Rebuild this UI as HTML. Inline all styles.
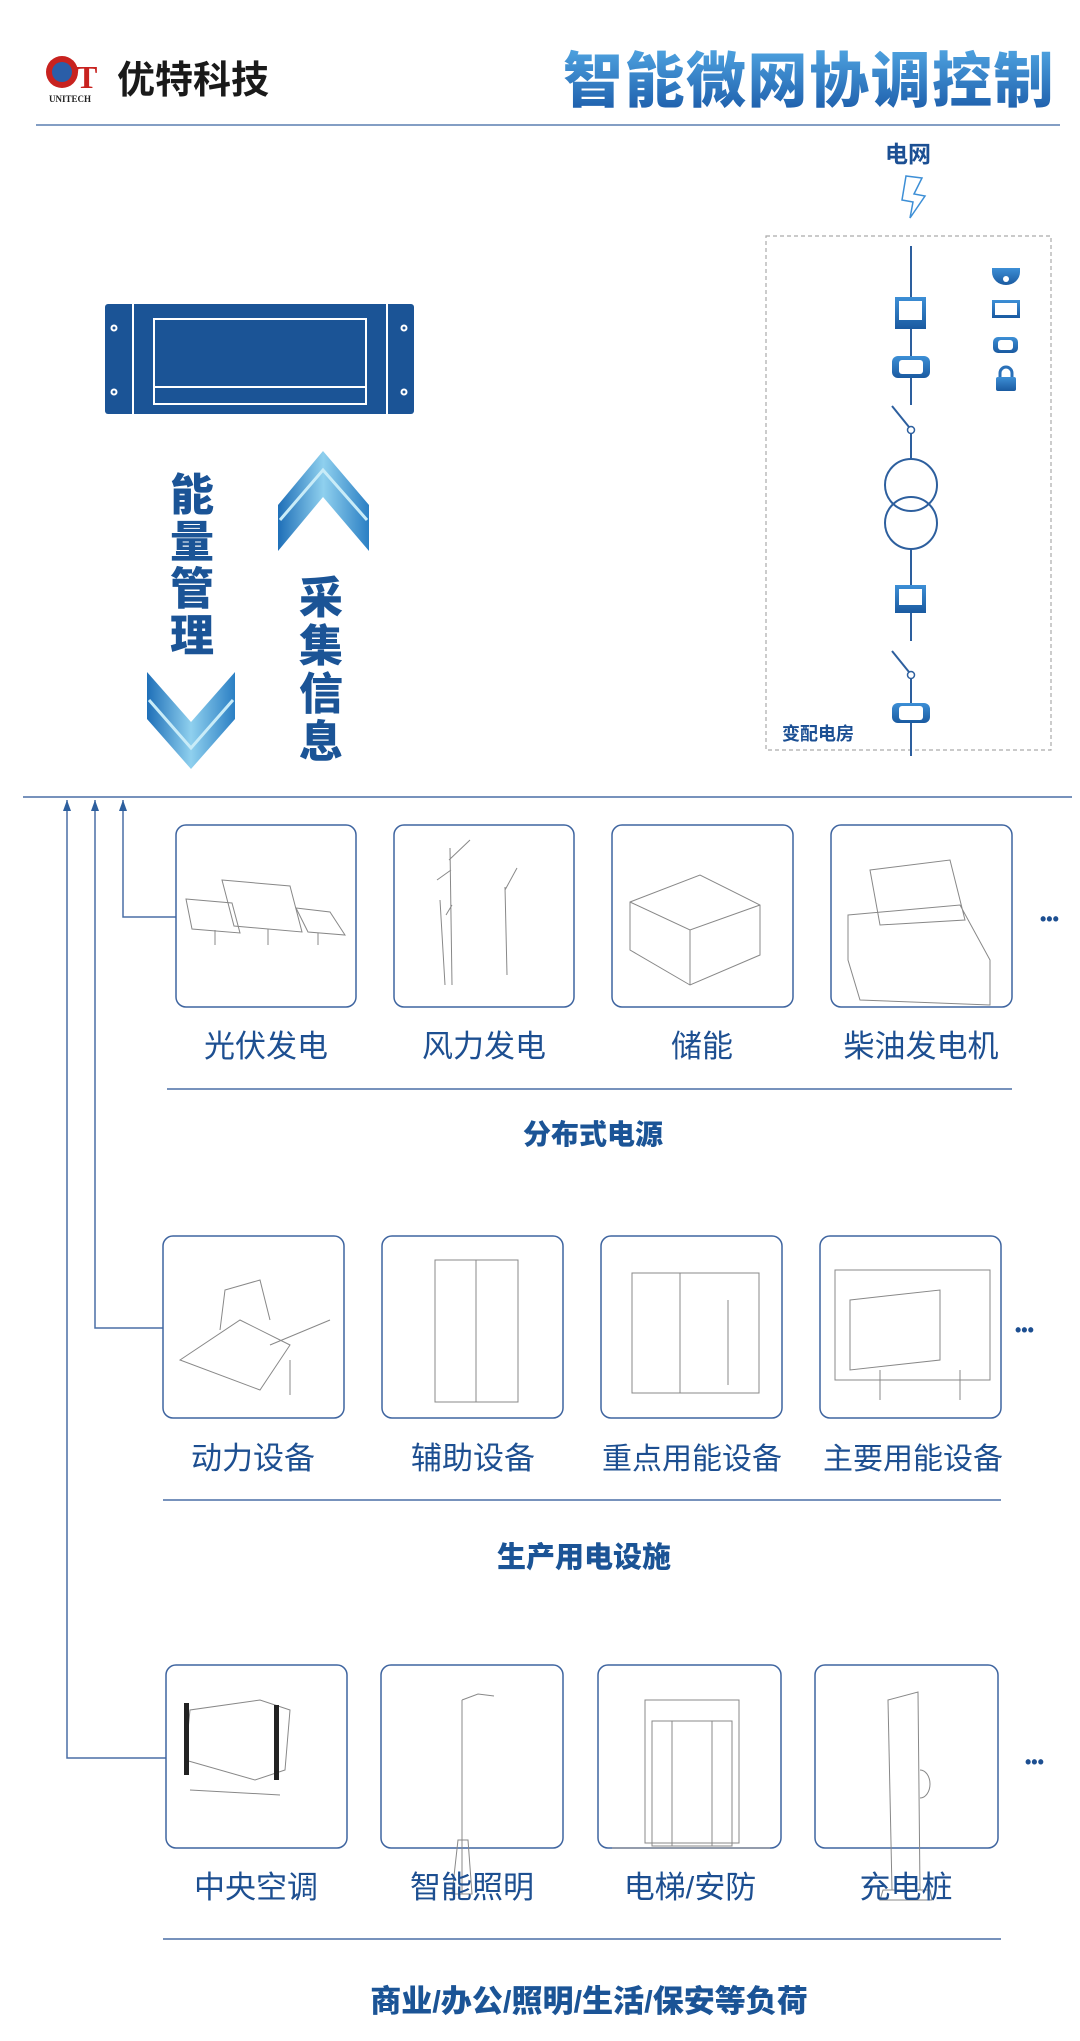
<!DOCTYPE html>
<html><head><meta charset="utf-8"><style>
html,body{margin:0;padding:0;background:#fff}
svg{display:block}
.cn{font-family:"Liberation Sans","Noto Sans CJK SC",sans-serif}
</style></head><body>
<svg width="1080" height="2041" viewBox="0 0 1080 2041" xmlns="http://www.w3.org/2000/svg" class="cn">
<defs>
<linearGradient id="tg" x1="0" y1="0" x2="0" y2="1"><stop offset="0" stop-color="#4fa3e0"/><stop offset="1" stop-color="#1a5aa8"/></linearGradient>
<linearGradient id="cg" x1="0" y1="0" x2="1" y2="0"><stop offset="0" stop-color="#1e6fb8"/><stop offset="0.5" stop-color="#8fd0ee"/><stop offset="1" stop-color="#2b7fc4"/></linearGradient>
<linearGradient id="ig" x1="0" y1="0" x2="0" y2="1"><stop offset="0" stop-color="#3d8fd6"/><stop offset="1" stop-color="#1a5aa0"/></linearGradient>
</defs>
<!-- header -->
<circle cx="62" cy="72" r="16" fill="#c8221f"/><circle cx="62" cy="72" r="10" fill="#2a5ea8"/>
<text x="76" y="88" font-size="32" font-weight="bold" fill="#c8221f" font-family="Liberation Serif,serif">T</text>
<text x="49" y="102" font-size="9" font-weight="bold" fill="#222" font-family="Liberation Serif,serif">UNITECH</text>
<text x="117" y="93" font-size="38" font-weight="bold" fill="#1a1a1a">优特科技</text>
<text x="563" y="102" font-size="60" font-weight="900" fill="url(#tg)" letter-spacing="1.5">智能微网协调控制</text>
<line x1="36" y1="125" x2="1060" y2="125" stroke="#5a7fb0" stroke-width="1.5"/>

<!-- grid panel -->
<text x="885" y="162" font-size="23" font-weight="bold" fill="#1b4f93">电网</text>
<path d="M906,176 L922,178 L914,194 L925,196 L910,218 L913,202 L902,200 Z" fill="none" stroke="#3d8fd6" stroke-width="1.5"/>
<rect x="766" y="236" width="285" height="514" fill="none" stroke="#aaa" stroke-width="1.2" stroke-dasharray="4,3"/>
<g stroke="#2d5f9e" stroke-width="2" fill="none">
<line x1="911" y1="246" x2="911" y2="405"/>
<line x1="892" y1="406" x2="909" y2="427"/>
<line x1="911" y1="433" x2="911" y2="459"/>
<circle cx="911" cy="485" r="26"/><circle cx="911" cy="523" r="26"/>
<line x1="911" y1="549" x2="911" y2="641"/>
<line x1="892" y1="651" x2="909" y2="672"/>
<line x1="911" y1="677" x2="911" y2="756"/>
</g>
<circle cx="911" cy="430" r="3.5" fill="#fff" stroke="#2d5f9e" stroke-width="1.5"/>
<circle cx="911" cy="675" r="3.5" fill="#fff" stroke="#2d5f9e" stroke-width="1.5"/>
<g fill="url(#ig)">
<rect x="895" y="297" width="31" height="32"/><rect x="895" y="585" width="31" height="28"/>
<rect x="892" y="356" width="38" height="22" rx="6"/><rect x="892" y="703" width="38" height="20" rx="6"/>
<path d="M992,268 h28 v4 a14,13 0 0 1 -28,0 z"/>
<rect x="992" y="300" width="28" height="18"/>
<rect x="993" y="337" width="25" height="16" rx="5"/>
<rect x="996" y="377" width="20" height="14" rx="2"/>
</g>
<path d="M1000,377 v-4 a6,6 0 0 1 12,0 v4" fill="none" stroke="#2a70b8" stroke-width="3"/>
<g fill="#fff"><rect x="899" y="301" width="23" height="19"/><rect x="899" y="589" width="23" height="16"/>
<rect x="899" y="360" width="24" height="14" rx="3"/><rect x="899" y="706" width="24" height="14" rx="3"/>
<rect x="995" y="303" width="22" height="12"/><rect x="998" y="340" width="15" height="10" rx="3"/><circle cx="1006" cy="279" r="3"/></g>
<text x="782" y="740" font-size="18" font-weight="bold" fill="#1b4f93">变配电房</text>

<!-- controller -->
<rect x="105" y="304" width="309" height="110" rx="3" fill="#1b5496"/>
<line x1="133" y1="304" x2="133" y2="414" stroke="#fff" stroke-width="2"/>
<line x1="387" y1="304" x2="387" y2="414" stroke="#fff" stroke-width="2"/>
<g fill="none" stroke="#fff" stroke-width="2"><rect x="154" y="319" width="212" height="85"/><line x1="154" y1="387" x2="366" y2="387"/>
<circle cx="114" cy="328" r="2.5"/><circle cx="114" cy="392" r="2.5"/><circle cx="404" cy="328" r="2.5"/><circle cx="404" cy="392" r="2.5"/></g>

<!-- vertical texts -->
<g font-size="44" font-weight="900" fill="#1b5496" text-anchor="middle">
<text x="192" y="510">能</text><text x="192" y="557">量</text><text x="192" y="604">管</text><text x="192" y="651">理</text>
<text x="321" y="613">采</text><text x="321" y="661">集</text><text x="321" y="709">信</text><text x="321" y="757">息</text>
</g>
<polygon points="278,505 323,451 369,505 369,551 323,497 278,551" fill="url(#cg)"/>
<polyline points="280,520 323,470 367,520" fill="none" stroke="#c9ecf8" stroke-width="3"/>
<polygon points="147,672 191,722 235,672 235,719 191,769 147,719" fill="url(#cg)"/>
<polyline points="149,700 191,748 233,700" fill="none" stroke="#c9ecf8" stroke-width="3"/>

<!-- bus + connectors -->
<g stroke="#4a6fa5" stroke-width="1.5" fill="none">
<line x1="23" y1="797" x2="1072" y2="797"/>
<polyline points="123,800 123,917 176,917"/>
<polyline points="95,800 95,1328 163,1328"/>
<polyline points="67,800 67,1758 166,1758"/>
</g>
<g fill="#2d5f9e"><polygon points="123,800 119,811 127,811"/><polygon points="95,800 91,811 99,811"/><polygon points="67,800 63,811 71,811"/></g>

<!-- boxes -->
<g fill="none" stroke="#3f65a0" stroke-width="1.5">
<rect x="176" y="825" width="180" height="182" rx="10"/><rect x="394" y="825" width="180" height="182" rx="10"/>
<rect x="612" y="825" width="181" height="182" rx="10"/><rect x="831" y="825" width="181" height="182" rx="10"/>
<rect x="163" y="1236" width="181" height="182" rx="10"/><rect x="382" y="1236" width="181" height="182" rx="10"/>
<rect x="601" y="1236" width="181" height="182" rx="10"/><rect x="820" y="1236" width="181" height="182" rx="10"/>
<rect x="166" y="1665" width="181" height="183" rx="10"/><rect x="381" y="1665" width="182" height="183" rx="10"/>
<rect x="598" y="1665" width="183" height="183" rx="10"/><rect x="815" y="1665" width="183" height="183" rx="10"/>
</g>

<!-- icons (line art approx) -->
<g fill="none" stroke="#888" stroke-width="1">
<polygon points="186,899 232,903 240,933 192,929"/><polygon points="222,880 290,886 302,932 234,926"/><polygon points="296,908 330,912 345,935 308,932"/>
<line x1="268" y1="929" x2="268" y2="945"/><line x1="215" y1="930" x2="215" y2="945"/><line x1="318" y1="933" x2="318" y2="945"/>
<path d="M450,848 L452,985 M440,900 L445,985 M505,887 L507,975 M449,860 L470,840 M451,870 L437,880 M517,868 L505,890 M452,905 L446,915"/>
<path d="M630,902 L700,875 L760,905 L760,955 L690,985 L630,950 Z M630,902 L690,930 L760,905 M690,930 L690,985"/>
<path d="M848,915 L960,905 L990,960 L990,1005 L860,1000 L848,960 Z M870,870 L950,860 L965,920 L880,925 Z"/>
<path d="M180,1360 L240,1320 L290,1345 L260,1390 Z M220,1330 L225,1290 L260,1280 L270,1320 M270,1345 L330,1320 M290,1360 L290,1395"/>
<rect x="435" y="1260" width="83" height="142"/><line x1="476" y1="1260" x2="476" y2="1402"/>
<rect x="632" y="1273" width="127" height="120"/><line x1="680" y1="1273" x2="680" y2="1393"/><line x1="728" y1="1300" x2="728" y2="1385"/>
<path d="M835,1270 L990,1270 L990,1380 L835,1380 Z M850,1300 L940,1290 L940,1360 L850,1370 Z M880,1370 L880,1400 M960,1370 L960,1400"/>
<path d="M185,1760 L190,1710 L260,1700 L290,1710 L285,1770 L255,1780 Z M190,1790 L280,1795"/>
<path d="M462,1700 L462,1894 M462,1700 L478,1694 L494,1696 M452,1894 L472,1894 L468,1840 L458,1840 Z"/>
<rect x="645" y="1700" width="94" height="143"/><rect x="652" y="1721" width="80" height="125"/><line x1="672" y1="1721" x2="672" y2="1846"/><line x1="712" y1="1721" x2="712" y2="1846"/><line x1="612" y1="1848" x2="770" y2="1848"/>
<path d="M888,1700 L918,1692 L920,1890 L892,1890 Z M883,1890 L930,1890 L932,1900 L880,1900 Z M920,1770 a10,14 0 0 1 0,28"/>
</g>
<rect x="184" y="1703" width="5" height="72" fill="#222"/><rect x="274" y="1705" width="5" height="75" fill="#222"/>

<!-- labels -->
<g font-size="31" fill="#1d4f91" text-anchor="middle">
<text x="266" y="1057">光伏发电</text><text x="484" y="1057">风力发电</text><text x="702" y="1057">储能</text><text x="921" y="1057">柴油发电机</text>
<text x="253" y="1469">动力设备</text><text x="473" y="1469">辅助设备</text><text x="692" y="1469" font-size="30">重点用能设备</text><text x="913" y="1469" font-size="30">主要用能设备</text>
<text x="256" y="1898">中央空调</text><text x="472" y="1898">智能照明</text><text x="690" y="1898">电梯/安防</text><text x="906" y="1898">充电桩</text>
</g>
<g font-size="18" font-weight="bold" fill="#1d4f91"><text x="1040" y="925">•••</text><text x="1015" y="1336">•••</text><text x="1025" y="1768">•••</text></g>
<g stroke="#4a6fa5" stroke-width="1.5"><line x1="167" y1="1089" x2="1012" y2="1089"/><line x1="163" y1="1500" x2="1001" y2="1500"/><line x1="163" y1="1939" x2="1001" y2="1939"/></g>
<g font-weight="900" fill="#1b5496" text-anchor="middle">
<text x="593" y="1144" font-size="28">分布式电源</text>
<text x="584" y="1567" font-size="29">生产用电设施</text>
<text x="589" y="2012" font-size="31">商业/办公/照明/生活/保安等负荷</text>
</g>
</svg>
</body></html>
